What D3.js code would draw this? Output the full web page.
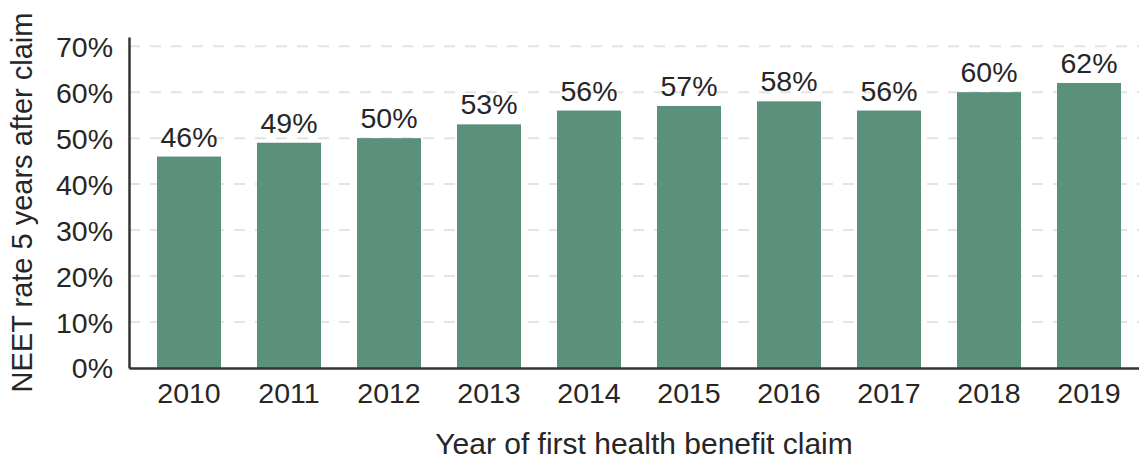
<!DOCTYPE html>
<html>
<head>
<meta charset="utf-8">
<script src="https://cdn.jsdelivr.net/npm/d3@7"></script>
<style>
  body { margin: 0; background: #fff; }
  text { font-family: "Liberation Sans", Arial, sans-serif; fill: #262626; }
</style>
</head>
<body>
<div id="chart"></div>
<script>
// Data
var years = ['2010', '2011', '2012', '2013', '2014', '2015', '2016', '2017', '2018', '2019'];
var neetRates = [46, 49, 50, 53, 56, 57, 58, 56, 60, 62];
var yTicks = [0, 10, 20, 30, 40, 50, 60, 70];

var width = 1139,
    height = 458,
    margin = {top: 37, right: -10, bottom: 90, left: 129},
    fontSize = '28.5px';

var drawWidth = width - margin.left - margin.right;
var drawHeight = height - margin.top - margin.bottom;

var svg = d3.select('#chart').append('svg')
    .attr('width', width)
    .attr('height', height);

var xScale = d3.scaleBand()
    .domain(years)
    .range([0, drawWidth])
    .paddingInner(0.36)
    .paddingOuter(0.28);

var yScale = d3.scaleLinear()
    .domain([0, 72])
    .range([drawHeight, 0]);

var g = svg.append('g')
    .attr('transform', 'translate(' + margin.left + ',' + margin.top + ')');

// Gridlines
g.append('g').attr('class', 'grid')
    .selectAll('line')
    .data(yTicks.filter(function(d) { return d > 0; }))
    .enter().append('line')
    .attr('x1', 0)
    .attr('x2', drawWidth)
    .attr('y1', function(d) { return yScale(d); })
    .attr('y2', function(d) { return yScale(d); })
    .attr('stroke', '#e3e3e3')
    .attr('stroke-width', 2)
    .attr('stroke-dasharray', '11,10');

// Bars
g.selectAll('.bar')
    .data(neetRates)
    .enter().append('rect')
    .attr('class', 'bar')
    .attr('x', function(d, i) { return xScale(years[i]); })
    .attr('y', function(d) { return yScale(d); })
    .attr('width', xScale.bandwidth())
    .attr('height', function(d) { return drawHeight - yScale(d); })
    .attr('fill', '#5b917a');

// Value labels
g.selectAll('.val')
    .data(neetRates)
    .enter().append('text')
    .attr('class', 'val')
    .attr('x', function(d, i) { return xScale(years[i]) + xScale.bandwidth() / 2; })
    .attr('y', function(d) { return yScale(d) - 10; })
    .attr('text-anchor', 'middle')
    .style('font-size', fontSize)
    .text(function(d) { return d + '%'; });

// Axes
var xAxis = d3.axisBottom(xScale).tickSize(0).tickPadding(15);
var yAxis = d3.axisLeft(yScale).tickValues(yTicks).tickSize(0).tickPadding(16)
    .tickFormat(function(d) { return d + '%'; });

var xg = g.append('g')
    .attr('transform', 'translate(0,' + drawHeight + ')')
    .call(xAxis);
var yg = g.append('g').call(yAxis);

[xg, yg].forEach(function(a) {
    a.select('.domain').attr('stroke', '#333').attr('stroke-width', 2.5);
    a.selectAll('text').style('font-size', fontSize).attr('fill', '#262626');
});
xg.selectAll('text').attr('dy', '0.71em');
yg.selectAll('text').attr('dy', '0.35em');

// Axis titles
svg.append('text')
    .attr('x', 644)
    .attr('y', 454)
    .attr('text-anchor', 'middle')
    .style('font-size', '30px')
    .text('Year of first health benefit claim');

svg.append('text')
    .attr('transform', 'translate(32,' + (margin.top + drawHeight / 2) + ') rotate(-90)')
    .attr('text-anchor', 'middle')
    .style('font-size', '29px')
    .text('NEET rate 5 years after claim');
</script>
</body>
</html>
